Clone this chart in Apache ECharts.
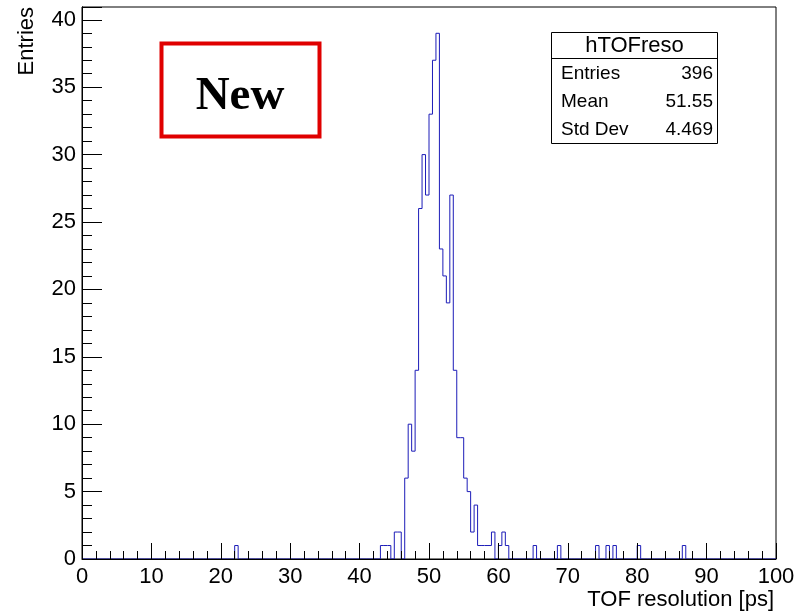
<!DOCTYPE html>
<html><head><meta charset="utf-8">
<script src="https://cdn.jsdelivr.net/npm/echarts@6/dist/echarts.min.js"></script>
<style>html,body{margin:0;padding:0;background:#fff}#c{width:805px;height:612px}</style>
</head><body><div id="c"></div>
<script>
// ---- data ----
const histName = 'hTOFreso';
const xMin = 0, xMax = 100, binWidth = 0.5;
const yTop = 40.95;
const filledBinLowEdges = [22, 43, 43.5, 44, 45, 45.5, 46.5, 47, 47.5, 48, 48.5, 49, 49.5, 50, 50.5, 51, 51.5, 52, 52.5, 53, 53.5, 54, 54.5, 55, 55.5, 56, 56.5, 57, 57.5, 58, 58.5, 59, 60, 60.5, 61, 65, 68.5, 74, 75.5, 76.5, 80, 86.5];
const filledBinCounts   = [1, 1, 1, 1, 2, 2, 6, 10, 8, 14, 26, 30, 27, 33, 37, 39, 23, 21, 19, 27, 14, 9, 9, 6, 5, 2, 4, 1, 1, 1, 1, 2, 1, 2, 1, 1, 1, 1, 1, 1, 1, 1];
const xTickLabels = [0, 10, 20, 30, 40, 50, 60, 70, 80, 90, 100];
const yTickLabels = [0, 5, 10, 15, 20, 25, 30, 35, 40];
const statLabels = ['Entries', 'Mean', 'Std Dev'];
const statValues = ['396', '51.55', '4.469'];
const xTitle = 'TOF resolution [ps]';
const yTitle = 'Entries';
const noteText = 'New';

// ---- build histogram outline ----
const nBins = Math.round((xMax - xMin) / binWidth);
const counts = new Array(nBins).fill(0);
filledBinLowEdges.forEach((e, i) => { counts[Math.round((e - xMin) / binWidth)] = filledBinCounts[i]; });
const histData = counts.map((c, i) => [xMin + i * binWidth, c]);
histData.push([xMax, counts[nBins - 1]]);

const FONT = '"Liberation Sans", Arial, Helvetica, sans-serif';
const chart = echarts.init(document.getElementById('c'), null, {renderer: 'canvas'});

const statRows = [];
statLabels.forEach((l, i) => {
  const y = 74 + i * 28;
  statRows.push({type: 'text', z: 101, style: {text: l, x: 561, y: y, textAlign: 'left', align: 'left', textVerticalAlign: 'middle', verticalAlign: 'middle', font: '19px ' + FONT, fill: '#000'}});
  statRows.push({type: 'text', z: 101, style: {text: statValues[i], x: 713, y: y, textAlign: 'right', align: 'right', textVerticalAlign: 'middle', verticalAlign: 'middle', font: '19px ' + FONT, fill: '#000'}});
});

chart.setOption({
  animation: false,
  backgroundColor: '#fff',
  grid: {left: 82, right: 29, top: 7, bottom: 53, show: true, borderColor: '#000', borderWidth: 1, backgroundColor: 'transparent', containLabel: false, outerBoundsMode: 'none'},
  xAxis: {
    type: 'value', min: xMin, max: xMax, interval: 10, z: 10,
    axisLine: {show: true, onZero: false, lineStyle: {color: '#000', width: 1}},
    axisTick: {show: true, inside: true, length: 16, lineStyle: {color: '#000', width: 1}},
    minorTick: {show: true, splitNumber: 5, length: 8, lineStyle: {color: '#000', width: 1}},
    axisLabel: {show: true, margin: 7, color: '#000', fontFamily: FONT, fontSize: 22, showMinLabel: true, showMaxLabel: true, hideOverlap: false,
      formatter: v => (xTickLabels.indexOf(v) >= 0 ? String(v) : '')},
    splitLine: {show: false}, minorSplitLine: {show: false}
  },
  yAxis: [
    {
      type: 'value', min: 0, max: yTop, interval: 1, position: 'left', z: 10,
      axisLine: {show: true, onZero: false, lineStyle: {color: '#000', width: 1}},
      axisTick: {show: true, inside: true, length: 10, lineStyle: {color: '#000', width: 1}},
      axisLabel: {show: false}, splitLine: {show: false}
    },
    {
      type: 'value', min: 0, max: yTop, interval: 5, position: 'left', offset: 0, z: 10,
      axisLine: {show: true, onZero: false, lineStyle: {color: '#000', width: 1}},
      axisTick: {show: true, inside: true, length: 20, lineStyle: {color: '#000', width: 1}},
      axisLabel: {show: true, margin: 6, color: '#000', fontFamily: FONT, fontSize: 22, hideOverlap: false,
        formatter: v => (yTickLabels.indexOf(v) >= 0 ? String(v) : '')},
      splitLine: {show: false}
    }
  ],
  series: [{
    name: histName, type: 'line', step: 'end', data: histData, xAxisIndex: 0, yAxisIndex: 0,
    symbol: 'none', showSymbol: false, clip: false,
    lineStyle: {color: '#1c1cb8', width: 1}, itemStyle: {color: '#1c1cb8'}, z: 2
  }],
  graphic: [
    {type: 'text', z: 100, style: {text: xTitle, x: 774, y: 600, textAlign: 'right', align: 'right', textVerticalAlign: 'middle', verticalAlign: 'middle', font: '22px ' + FONT, fill: '#000'}},
    {type: 'text', z: 100, x: 27, y: 7, rotation: Math.PI / 2, style: {text: yTitle, x: 0, y: 0, textAlign: 'right', align: 'right', textVerticalAlign: 'middle', verticalAlign: 'middle', font: '22px ' + FONT, fill: '#000'}},
    {type: 'rect', z: 100, shape: {x: 551.5, y: 32.5, width: 166, height: 111}, style: {fill: '#fff', stroke: '#000', lineWidth: 1}},
    {type: 'line', z: 101, shape: {x1: 551.5, y1: 58.5, x2: 717.5, y2: 58.5}, style: {stroke: '#000', lineWidth: 1}},
    {type: 'text', z: 101, style: {text: histName, x: 634.5, y: 46, textAlign: 'center', align: 'center', textVerticalAlign: 'middle', verticalAlign: 'middle', font: '22px ' + FONT, fill: '#000'}},
    ...statRows,
    {type: 'rect', z: 100, shape: {x: 161.5, y: 43.5, width: 158, height: 93}, style: {fill: '#fff', stroke: '#e00000', lineWidth: 4}},
    {type: 'text', z: 101, style: {text: noteText, x: 240, y: 97, textAlign: 'center', align: 'center', textVerticalAlign: 'middle', verticalAlign: 'middle', font: 'bold 47px "Liberation Serif", "Times New Roman", serif', fill: '#000'}}
  ]
});
</script>
</body></html>
